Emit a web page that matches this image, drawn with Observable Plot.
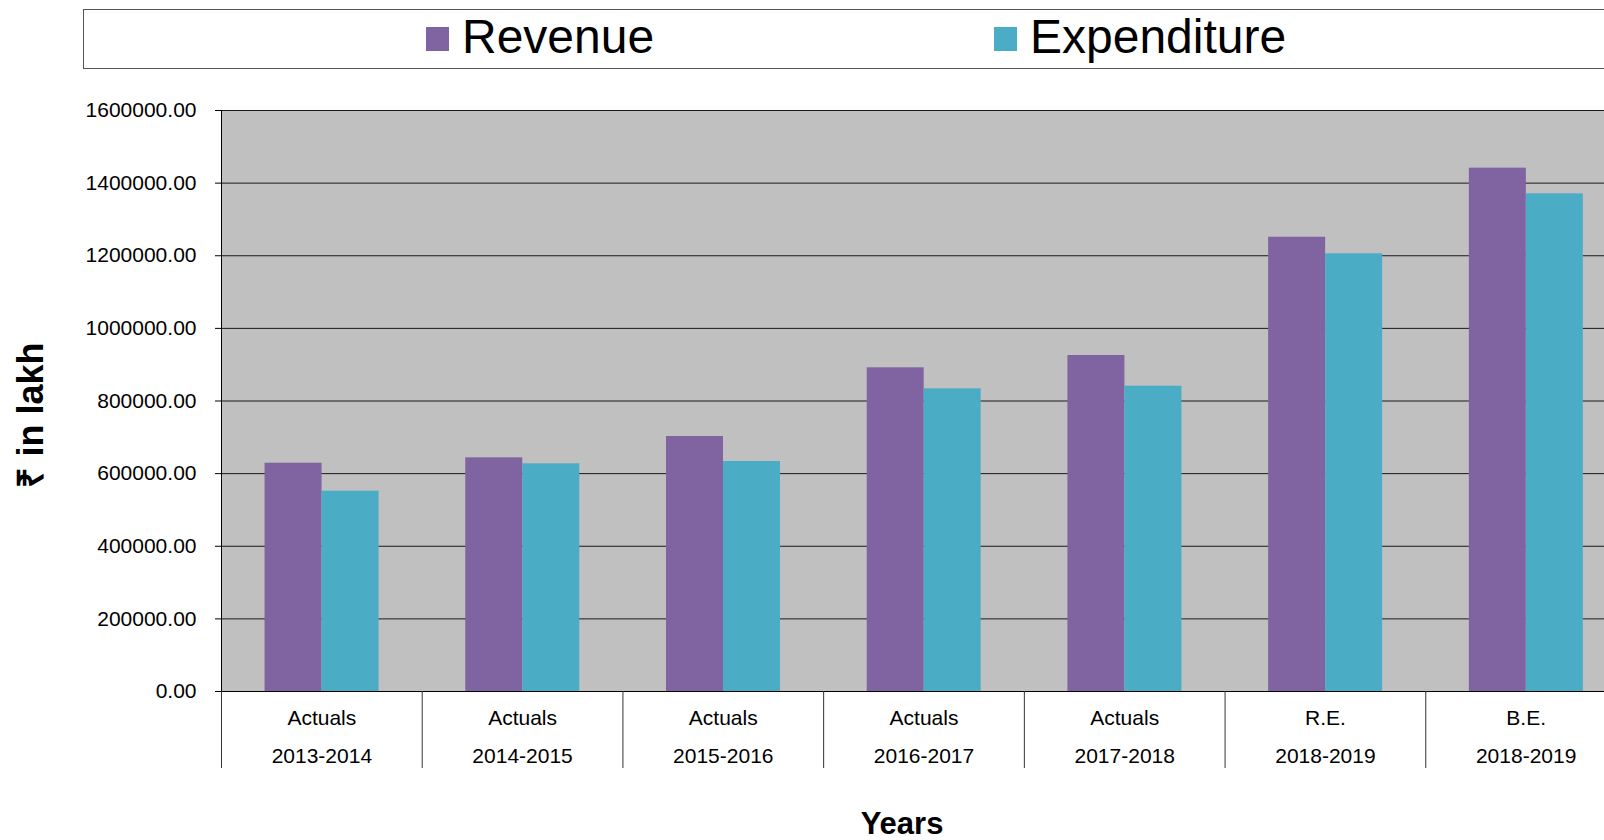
<!DOCTYPE html>
<html>
<head>
<meta charset="utf-8">
<script src="https://cdn.jsdelivr.net/npm/d3@7"></script>
<script src="https://cdn.jsdelivr.net/npm/@observablehq/plot@0.6"></script>
<style>
html, body { margin: 0; padding: 0; background: #fff; overflow: hidden; width: 1604px; height: 840px; }
#chart { position: absolute; left: 0; top: 0; }
#chart svg { max-width: none !important; display: block; }
#legend { position: absolute; left: 83px; top: 9px; width: 1560px; height: 58px; border: 1px solid #555; background: #fff;
  font-family: "Liberation Sans", Arial, sans-serif; z-index: 2; }
.item { position: absolute; top: 0; height: 58px; }
.sw { position: absolute; left: 0; width: 23px; height: 24px; top: 17px; }
.lbl { position: absolute; left: 36px; top: 0px; font-size: 48px; line-height: 54px; white-space: nowrap; color: #000; }
</style>
</head>
<body>
<div id="legend"></div>
<div id="chart"></div>
<script>
// Data (₹ in lakh)
const stages = ["Actuals", "Actuals", "Actuals", "Actuals", "Actuals", "R.E.", "B.E."];
const years = ["2013-2014", "2014-2015", "2015-2016", "2016-2017", "2017-2018", "2018-2019", "2018-2019"];
const revenue = [628700, 643500, 702200, 891400, 925300, 1251000, 1441200];
const expenditure = [551600, 627000, 633400, 833500, 840800, 1205300, 1370500];
const seriesNames = ["Revenue", "Expenditure"];
const seriesColors = ["#8064a2", "#4bacc6"];
const yTicks = [0, 200000, 400000, 600000, 800000, 1000000, 1200000, 1400000, 1600000];

// Legend (HTML, above the SVG)
const legend = document.getElementById("legend");
const legendLeft = [342, 910];
seriesNames.forEach((name, i) => {
  const item = document.createElement("div");
  item.className = "item";
  item.style.left = legendLeft[i] + "px";
  const sw = document.createElement("div");
  sw.className = "sw";
  sw.style.background = seriesColors[i];
  const lbl = document.createElement("div");
  lbl.className = "lbl";
  lbl.textContent = name;
  item.appendChild(sw);
  item.appendChild(lbl);
  legend.appendChild(item);
});

const keys = stages.map((s, i) => s + "\n" + years[i]);
const rows = keys.map((k, i) => ({k, revenue: revenue[i], expenditure: expenditure[i]}));

const W = 1630, H = 840, mL = 221, mR = 4, mT = 110, mB = 149;
const bw = (W - mL - mR) / keys.length;
const padL = 0.217, barW = 0.284;

const plot = Plot.plot({
  width: W, height: H,
  marginLeft: mL, marginRight: mR, marginTop: mT, marginBottom: mB,
  style: {fontFamily: "'Liberation Sans', Arial, sans-serif", fontSize: "21px", color: "#000", background: "transparent"},
  x: {domain: keys, padding: 0, round: false, axis: null},
  y: {domain: [0, 1600000], axis: null},
  marks: [
    Plot.frame({fill: "#c0c0c0", stroke: null}),
    Plot.gridY(yTicks, {stroke: "#1a1a1a", strokeOpacity: 1}),
    Plot.barY(rows, {x: "k", y: "revenue", fill: seriesColors[0],
      insetLeft: bw * padL, insetRight: bw * (1 - padL - barW)}),
    Plot.barY(rows, {x: "k", y: "expenditure", fill: seriesColors[1],
      insetLeft: bw * (padL + barW), insetRight: bw * (1 - padL - 2 * barW)}),
    Plot.ruleY([0], {stroke: "#000"}),
    Plot.ruleX([keys[0]], {dx: -bw / 2, stroke: "#000"}),
    Plot.axisY({ticks: yTicks, tickFormat: d => d.toFixed(2), tickSize: 6, tickPadding: 19, label: null, fontSize: 21}),
    Plot.axisX({tickSize: 77, dx: -bw / 2, tickFormat: () => "", stroke: "#333", label: null}),
    Plot.axisX({tickSize: 0, tickPadding: 7, lineHeight: 1.8, label: null, fontSize: 21}),
    Plot.text(["₹ in lakh"], {text: d => d, frameAnchor: "left", textAnchor: "middle", lineAnchor: "middle",
      rotate: -90, dx: -190, dy: 14, fontSize: 36, fontWeight: "bold"}),
    Plot.text(["Years"], {text: d => d, frameAnchor: "bottom", textAnchor: "middle", lineAnchor: "middle",
      dy: 133, dx: -22, fontSize: 31, fontWeight: "bold"})
  ]
});
document.getElementById("chart").appendChild(plot);
</script>
</body>
</html>
